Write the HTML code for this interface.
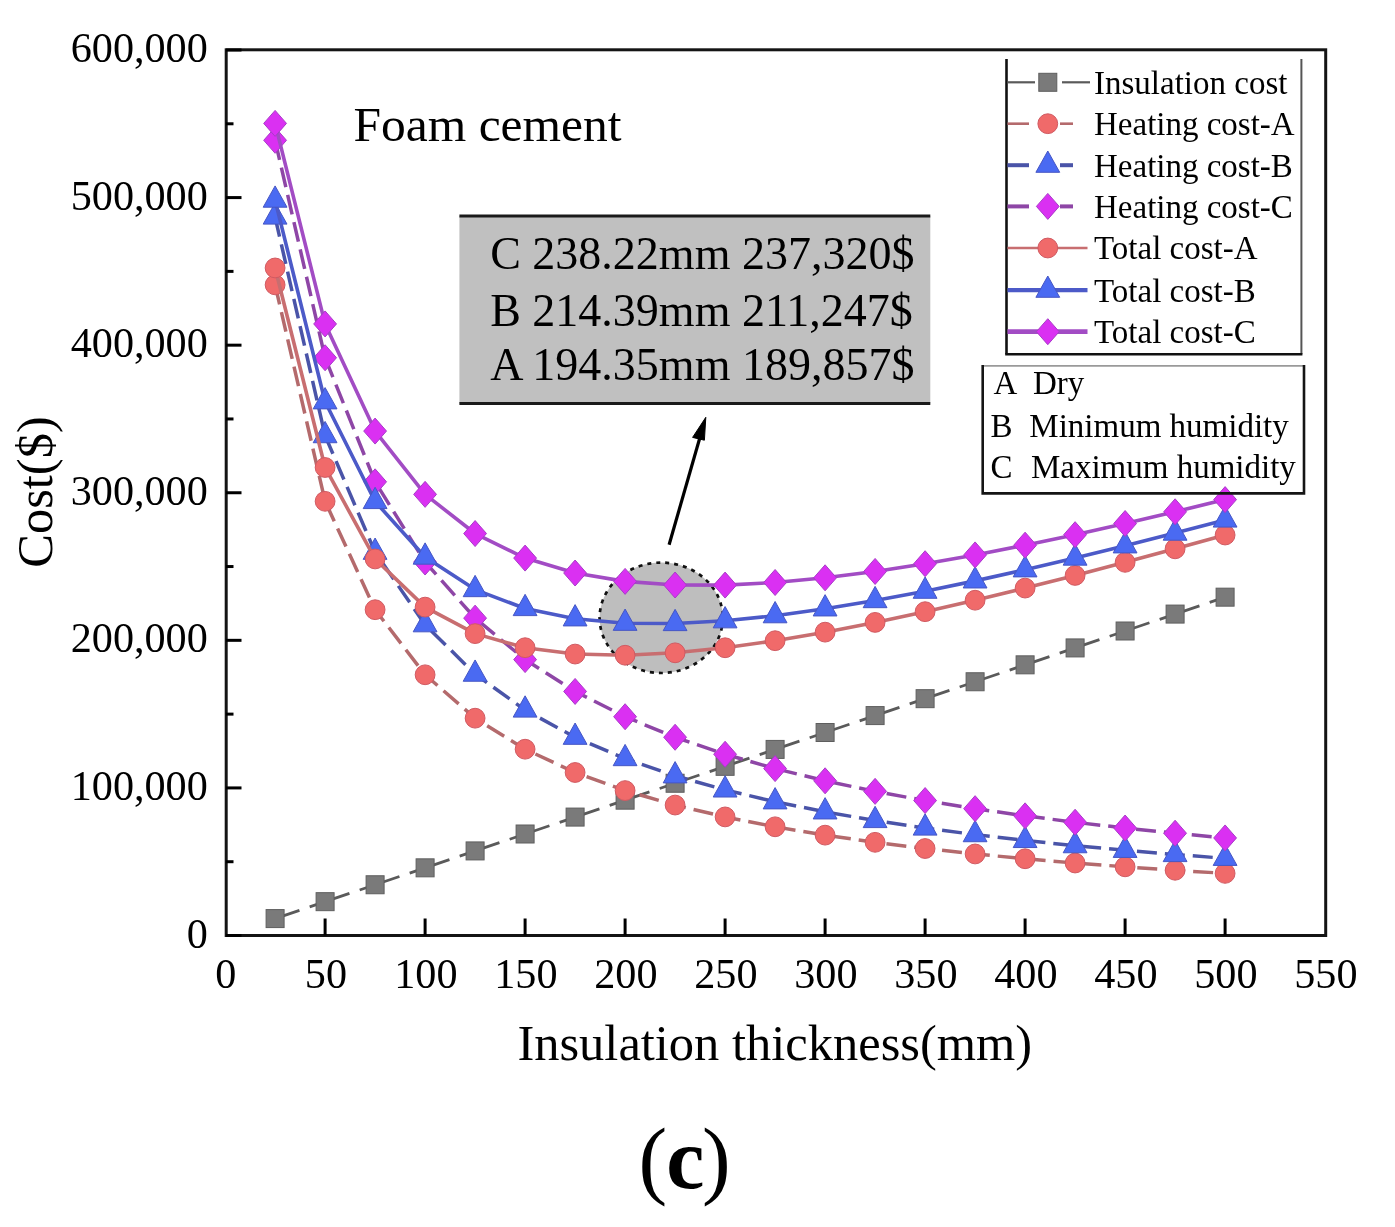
<!DOCTYPE html><html><head><meta charset="utf-8"><style>html,body{margin:0;padding:0;background:#fff;}svg{display:block;filter:blur(0.55px);}</style></head><body>
<svg width="1395" height="1227" viewBox="0 0 1395 1227">
<rect width="1395" height="1227" fill="#ffffff"/>
<ellipse cx="661.2" cy="617.8" rx="61.6" ry="55.2" fill="#bebebe" stroke="#111" stroke-width="2.7" stroke-dasharray="4 5"/>
<line x1="275.10" y1="918.58" x2="325.10" y2="901.67" stroke="#5a5a5a" stroke-width="2.8" stroke-dasharray="25.7 10.8 40"/>
<line x1="325.10" y1="901.67" x2="375.10" y2="884.75" stroke="#5a5a5a" stroke-width="2.8" stroke-dasharray="25.7 10.8 40"/>
<line x1="375.10" y1="884.75" x2="425.10" y2="867.83" stroke="#5a5a5a" stroke-width="2.8" stroke-dasharray="25.7 10.8 40"/>
<line x1="425.10" y1="867.83" x2="475.10" y2="850.92" stroke="#5a5a5a" stroke-width="2.8" stroke-dasharray="25.7 10.8 40"/>
<line x1="475.10" y1="850.92" x2="525.10" y2="834.00" stroke="#5a5a5a" stroke-width="2.8" stroke-dasharray="25.7 10.8 40"/>
<line x1="525.10" y1="834.00" x2="575.10" y2="817.08" stroke="#5a5a5a" stroke-width="2.8" stroke-dasharray="25.7 10.8 40"/>
<line x1="575.10" y1="817.08" x2="625.10" y2="800.17" stroke="#5a5a5a" stroke-width="2.8" stroke-dasharray="25.7 10.8 40"/>
<line x1="625.10" y1="800.17" x2="675.10" y2="783.25" stroke="#5a5a5a" stroke-width="2.8" stroke-dasharray="25.7 10.8 40"/>
<line x1="675.10" y1="783.25" x2="725.10" y2="766.33" stroke="#5a5a5a" stroke-width="2.8" stroke-dasharray="25.7 10.8 40"/>
<line x1="725.10" y1="766.33" x2="775.10" y2="749.42" stroke="#5a5a5a" stroke-width="2.8" stroke-dasharray="25.7 10.8 40"/>
<line x1="775.10" y1="749.42" x2="825.10" y2="732.50" stroke="#5a5a5a" stroke-width="2.8" stroke-dasharray="25.7 10.8 40"/>
<line x1="825.10" y1="732.50" x2="875.10" y2="715.58" stroke="#5a5a5a" stroke-width="2.8" stroke-dasharray="25.7 10.8 40"/>
<line x1="875.10" y1="715.58" x2="925.10" y2="698.67" stroke="#5a5a5a" stroke-width="2.8" stroke-dasharray="25.7 10.8 40"/>
<line x1="925.10" y1="698.67" x2="975.10" y2="681.75" stroke="#5a5a5a" stroke-width="2.8" stroke-dasharray="25.7 10.8 40"/>
<line x1="975.10" y1="681.75" x2="1025.10" y2="664.83" stroke="#5a5a5a" stroke-width="2.8" stroke-dasharray="25.7 10.8 40"/>
<line x1="1025.10" y1="664.83" x2="1075.10" y2="647.92" stroke="#5a5a5a" stroke-width="2.8" stroke-dasharray="25.7 10.8 40"/>
<line x1="1075.10" y1="647.92" x2="1125.10" y2="631.00" stroke="#5a5a5a" stroke-width="2.8" stroke-dasharray="25.7 10.8 40"/>
<line x1="1125.10" y1="631.00" x2="1175.10" y2="614.08" stroke="#5a5a5a" stroke-width="2.8" stroke-dasharray="25.7 10.8 40"/>
<line x1="1175.10" y1="614.08" x2="1225.10" y2="597.17" stroke="#5a5a5a" stroke-width="2.8" stroke-dasharray="25.7 10.8 40"/>
<rect x="266.10" y="909.58" width="18.00" height="18.00" fill="#7a7a7a" stroke="#5e5e5e" stroke-width="1"/>
<rect x="316.10" y="892.67" width="18.00" height="18.00" fill="#7a7a7a" stroke="#5e5e5e" stroke-width="1"/>
<rect x="366.10" y="875.75" width="18.00" height="18.00" fill="#7a7a7a" stroke="#5e5e5e" stroke-width="1"/>
<rect x="416.10" y="858.83" width="18.00" height="18.00" fill="#7a7a7a" stroke="#5e5e5e" stroke-width="1"/>
<rect x="466.10" y="841.92" width="18.00" height="18.00" fill="#7a7a7a" stroke="#5e5e5e" stroke-width="1"/>
<rect x="516.10" y="825.00" width="18.00" height="18.00" fill="#7a7a7a" stroke="#5e5e5e" stroke-width="1"/>
<rect x="566.10" y="808.08" width="18.00" height="18.00" fill="#7a7a7a" stroke="#5e5e5e" stroke-width="1"/>
<rect x="616.10" y="791.17" width="18.00" height="18.00" fill="#7a7a7a" stroke="#5e5e5e" stroke-width="1"/>
<rect x="666.10" y="774.25" width="18.00" height="18.00" fill="#7a7a7a" stroke="#5e5e5e" stroke-width="1"/>
<rect x="716.10" y="757.33" width="18.00" height="18.00" fill="#7a7a7a" stroke="#5e5e5e" stroke-width="1"/>
<rect x="766.10" y="740.42" width="18.00" height="18.00" fill="#7a7a7a" stroke="#5e5e5e" stroke-width="1"/>
<rect x="816.10" y="723.50" width="18.00" height="18.00" fill="#7a7a7a" stroke="#5e5e5e" stroke-width="1"/>
<rect x="866.10" y="706.58" width="18.00" height="18.00" fill="#7a7a7a" stroke="#5e5e5e" stroke-width="1"/>
<rect x="916.10" y="689.67" width="18.00" height="18.00" fill="#7a7a7a" stroke="#5e5e5e" stroke-width="1"/>
<rect x="966.10" y="672.75" width="18.00" height="18.00" fill="#7a7a7a" stroke="#5e5e5e" stroke-width="1"/>
<rect x="1016.10" y="655.83" width="18.00" height="18.00" fill="#7a7a7a" stroke="#5e5e5e" stroke-width="1"/>
<rect x="1066.10" y="638.92" width="18.00" height="18.00" fill="#7a7a7a" stroke="#5e5e5e" stroke-width="1"/>
<rect x="1116.10" y="622.00" width="18.00" height="18.00" fill="#7a7a7a" stroke="#5e5e5e" stroke-width="1"/>
<rect x="1166.10" y="605.08" width="18.00" height="18.00" fill="#7a7a7a" stroke="#5e5e5e" stroke-width="1"/>
<rect x="1216.10" y="588.17" width="18.00" height="18.00" fill="#7a7a7a" stroke="#5e5e5e" stroke-width="1"/>
<polyline points="275.10,284.87 325.10,501.31 375.10,609.70 425.10,674.78 475.10,718.19 525.10,749.21 575.10,772.48 625.10,790.58 675.10,805.06 725.10,816.91 775.10,826.79 825.10,835.15 875.10,842.31 925.10,848.52 975.10,853.96 1025.10,858.75 1075.10,863.01 1125.10,866.83 1175.10,870.26 1225.10,873.37" fill="none" stroke="#b46a6c" stroke-width="3.5" stroke-dasharray="20 8" stroke-linejoin="round"/>
<circle cx="275.10" cy="284.87" r="9.90" fill="#f06a6a" stroke="#d05a62" stroke-width="1"/>
<circle cx="325.10" cy="501.31" r="9.90" fill="#f06a6a" stroke="#d05a62" stroke-width="1"/>
<circle cx="375.10" cy="609.70" r="9.90" fill="#f06a6a" stroke="#d05a62" stroke-width="1"/>
<circle cx="425.10" cy="674.78" r="9.90" fill="#f06a6a" stroke="#d05a62" stroke-width="1"/>
<circle cx="475.10" cy="718.19" r="9.90" fill="#f06a6a" stroke="#d05a62" stroke-width="1"/>
<circle cx="525.10" cy="749.21" r="9.90" fill="#f06a6a" stroke="#d05a62" stroke-width="1"/>
<circle cx="575.10" cy="772.48" r="9.90" fill="#f06a6a" stroke="#d05a62" stroke-width="1"/>
<circle cx="625.10" cy="790.58" r="9.90" fill="#f06a6a" stroke="#d05a62" stroke-width="1"/>
<circle cx="675.10" cy="805.06" r="9.90" fill="#f06a6a" stroke="#d05a62" stroke-width="1"/>
<circle cx="725.10" cy="816.91" r="9.90" fill="#f06a6a" stroke="#d05a62" stroke-width="1"/>
<circle cx="775.10" cy="826.79" r="9.90" fill="#f06a6a" stroke="#d05a62" stroke-width="1"/>
<circle cx="825.10" cy="835.15" r="9.90" fill="#f06a6a" stroke="#d05a62" stroke-width="1"/>
<circle cx="875.10" cy="842.31" r="9.90" fill="#f06a6a" stroke="#d05a62" stroke-width="1"/>
<circle cx="925.10" cy="848.52" r="9.90" fill="#f06a6a" stroke="#d05a62" stroke-width="1"/>
<circle cx="975.10" cy="853.96" r="9.90" fill="#f06a6a" stroke="#d05a62" stroke-width="1"/>
<circle cx="1025.10" cy="858.75" r="9.90" fill="#f06a6a" stroke="#d05a62" stroke-width="1"/>
<circle cx="1075.10" cy="863.01" r="9.90" fill="#f06a6a" stroke="#d05a62" stroke-width="1"/>
<circle cx="1125.10" cy="866.83" r="9.90" fill="#f06a6a" stroke="#d05a62" stroke-width="1"/>
<circle cx="1175.10" cy="870.26" r="9.90" fill="#f06a6a" stroke="#d05a62" stroke-width="1"/>
<circle cx="1225.10" cy="873.37" r="9.90" fill="#f06a6a" stroke="#d05a62" stroke-width="1"/>
<polyline points="275.10,217.02 325.10,435.62 375.10,552.23 425.10,624.72 475.10,674.16 525.10,710.02 575.10,737.23 625.10,758.58 675.10,775.78 725.10,789.93 775.10,801.78 825.10,811.84 875.10,820.50 925.10,828.02 975.10,834.62 1025.10,840.46 1075.10,845.65 1125.10,850.31 1175.10,854.51 1225.10,858.32" fill="none" stroke="#4a54a8" stroke-width="3.5" stroke-dasharray="20 8" stroke-linejoin="round"/>
<polygon points="275.10,202.82 287.00,224.12 263.20,224.12" fill="#4a6af2" stroke="#4656c4" stroke-width="1"/>
<polygon points="325.10,421.42 337.00,442.72 313.20,442.72" fill="#4a6af2" stroke="#4656c4" stroke-width="1"/>
<polygon points="375.10,538.03 387.00,559.33 363.20,559.33" fill="#4a6af2" stroke="#4656c4" stroke-width="1"/>
<polygon points="425.10,610.52 437.00,631.82 413.20,631.82" fill="#4a6af2" stroke="#4656c4" stroke-width="1"/>
<polygon points="475.10,659.96 487.00,681.26 463.20,681.26" fill="#4a6af2" stroke="#4656c4" stroke-width="1"/>
<polygon points="525.10,695.82 537.00,717.12 513.20,717.12" fill="#4a6af2" stroke="#4656c4" stroke-width="1"/>
<polygon points="575.10,723.03 587.00,744.33 563.20,744.33" fill="#4a6af2" stroke="#4656c4" stroke-width="1"/>
<polygon points="625.10,744.38 637.00,765.68 613.20,765.68" fill="#4a6af2" stroke="#4656c4" stroke-width="1"/>
<polygon points="675.10,761.58 687.00,782.88 663.20,782.88" fill="#4a6af2" stroke="#4656c4" stroke-width="1"/>
<polygon points="725.10,775.73 737.00,797.03 713.20,797.03" fill="#4a6af2" stroke="#4656c4" stroke-width="1"/>
<polygon points="775.10,787.58 787.00,808.88 763.20,808.88" fill="#4a6af2" stroke="#4656c4" stroke-width="1"/>
<polygon points="825.10,797.64 837.00,818.94 813.20,818.94" fill="#4a6af2" stroke="#4656c4" stroke-width="1"/>
<polygon points="875.10,806.30 887.00,827.60 863.20,827.60" fill="#4a6af2" stroke="#4656c4" stroke-width="1"/>
<polygon points="925.10,813.82 937.00,835.12 913.20,835.12" fill="#4a6af2" stroke="#4656c4" stroke-width="1"/>
<polygon points="975.10,820.42 987.00,841.72 963.20,841.72" fill="#4a6af2" stroke="#4656c4" stroke-width="1"/>
<polygon points="1025.10,826.26 1037.00,847.56 1013.20,847.56" fill="#4a6af2" stroke="#4656c4" stroke-width="1"/>
<polygon points="1075.10,831.45 1087.00,852.75 1063.20,852.75" fill="#4a6af2" stroke="#4656c4" stroke-width="1"/>
<polygon points="1125.10,836.11 1137.00,857.41 1113.20,857.41" fill="#4a6af2" stroke="#4656c4" stroke-width="1"/>
<polygon points="1175.10,840.31 1187.00,861.61 1163.20,861.61" fill="#4a6af2" stroke="#4656c4" stroke-width="1"/>
<polygon points="1225.10,844.12 1237.00,865.42 1213.20,865.42" fill="#4a6af2" stroke="#4656c4" stroke-width="1"/>
<polyline points="275.10,140.30 325.10,357.76 375.10,481.82 425.10,562.02 475.10,618.13 525.10,659.58 575.10,691.45 625.10,716.72 675.10,737.25 725.10,754.26 775.10,768.58 825.10,780.80 875.10,791.36 925.10,800.56 975.10,808.66 1025.10,815.85 1075.10,822.26 1125.10,828.02 1175.10,833.22 1225.10,837.95" fill="none" stroke="#8e46a6" stroke-width="3.5" stroke-dasharray="20 8" stroke-linejoin="round"/>
<polygon points="275.10,127.30 286.50,140.30 275.10,153.30 263.70,140.30" fill="#da30f2" stroke="#a83cc8" stroke-width="1"/>
<polygon points="325.10,344.76 336.50,357.76 325.10,370.76 313.70,357.76" fill="#da30f2" stroke="#a83cc8" stroke-width="1"/>
<polygon points="375.10,468.82 386.50,481.82 375.10,494.82 363.70,481.82" fill="#da30f2" stroke="#a83cc8" stroke-width="1"/>
<polygon points="425.10,549.02 436.50,562.02 425.10,575.02 413.70,562.02" fill="#da30f2" stroke="#a83cc8" stroke-width="1"/>
<polygon points="475.10,605.13 486.50,618.13 475.10,631.13 463.70,618.13" fill="#da30f2" stroke="#a83cc8" stroke-width="1"/>
<polygon points="525.10,646.58 536.50,659.58 525.10,672.58 513.70,659.58" fill="#da30f2" stroke="#a83cc8" stroke-width="1"/>
<polygon points="575.10,678.45 586.50,691.45 575.10,704.45 563.70,691.45" fill="#da30f2" stroke="#a83cc8" stroke-width="1"/>
<polygon points="625.10,703.72 636.50,716.72 625.10,729.72 613.70,716.72" fill="#da30f2" stroke="#a83cc8" stroke-width="1"/>
<polygon points="675.10,724.25 686.50,737.25 675.10,750.25 663.70,737.25" fill="#da30f2" stroke="#a83cc8" stroke-width="1"/>
<polygon points="725.10,741.26 736.50,754.26 725.10,767.26 713.70,754.26" fill="#da30f2" stroke="#a83cc8" stroke-width="1"/>
<polygon points="775.10,755.58 786.50,768.58 775.10,781.58 763.70,768.58" fill="#da30f2" stroke="#a83cc8" stroke-width="1"/>
<polygon points="825.10,767.80 836.50,780.80 825.10,793.80 813.70,780.80" fill="#da30f2" stroke="#a83cc8" stroke-width="1"/>
<polygon points="875.10,778.36 886.50,791.36 875.10,804.36 863.70,791.36" fill="#da30f2" stroke="#a83cc8" stroke-width="1"/>
<polygon points="925.10,787.56 936.50,800.56 925.10,813.56 913.70,800.56" fill="#da30f2" stroke="#a83cc8" stroke-width="1"/>
<polygon points="975.10,795.66 986.50,808.66 975.10,821.66 963.70,808.66" fill="#da30f2" stroke="#a83cc8" stroke-width="1"/>
<polygon points="1025.10,802.85 1036.50,815.85 1025.10,828.85 1013.70,815.85" fill="#da30f2" stroke="#a83cc8" stroke-width="1"/>
<polygon points="1075.10,809.26 1086.50,822.26 1075.10,835.26 1063.70,822.26" fill="#da30f2" stroke="#a83cc8" stroke-width="1"/>
<polygon points="1125.10,815.02 1136.50,828.02 1125.10,841.02 1113.70,828.02" fill="#da30f2" stroke="#a83cc8" stroke-width="1"/>
<polygon points="1175.10,820.22 1186.50,833.22 1175.10,846.22 1163.70,833.22" fill="#da30f2" stroke="#a83cc8" stroke-width="1"/>
<polygon points="1225.10,824.95 1236.50,837.95 1225.10,850.95 1213.70,837.95" fill="#da30f2" stroke="#a83cc8" stroke-width="1"/>
<polyline points="275.10,267.95 325.10,467.48 375.10,558.95 425.10,607.11 475.10,633.61 525.10,647.71 575.10,654.06 625.10,655.24 675.10,652.81 725.10,647.75 775.10,640.71 825.10,632.15 875.10,622.40 925.10,611.69 975.10,600.21 1025.10,588.08 1075.10,575.43 1125.10,562.33 1175.10,548.84 1225.10,535.03" fill="none" stroke="#c86e70" stroke-width="3.6" stroke-linejoin="round"/>
<circle cx="275.10" cy="267.95" r="9.90" fill="#f06a6a" stroke="#d05a62" stroke-width="1"/>
<circle cx="325.10" cy="467.48" r="9.90" fill="#f06a6a" stroke="#d05a62" stroke-width="1"/>
<circle cx="375.10" cy="558.95" r="9.90" fill="#f06a6a" stroke="#d05a62" stroke-width="1"/>
<circle cx="425.10" cy="607.11" r="9.90" fill="#f06a6a" stroke="#d05a62" stroke-width="1"/>
<circle cx="475.10" cy="633.61" r="9.90" fill="#f06a6a" stroke="#d05a62" stroke-width="1"/>
<circle cx="525.10" cy="647.71" r="9.90" fill="#f06a6a" stroke="#d05a62" stroke-width="1"/>
<circle cx="575.10" cy="654.06" r="9.90" fill="#f06a6a" stroke="#d05a62" stroke-width="1"/>
<circle cx="625.10" cy="655.24" r="9.90" fill="#f06a6a" stroke="#d05a62" stroke-width="1"/>
<circle cx="675.10" cy="652.81" r="9.90" fill="#f06a6a" stroke="#d05a62" stroke-width="1"/>
<circle cx="725.10" cy="647.75" r="9.90" fill="#f06a6a" stroke="#d05a62" stroke-width="1"/>
<circle cx="775.10" cy="640.71" r="9.90" fill="#f06a6a" stroke="#d05a62" stroke-width="1"/>
<circle cx="825.10" cy="632.15" r="9.90" fill="#f06a6a" stroke="#d05a62" stroke-width="1"/>
<circle cx="875.10" cy="622.40" r="9.90" fill="#f06a6a" stroke="#d05a62" stroke-width="1"/>
<circle cx="925.10" cy="611.69" r="9.90" fill="#f06a6a" stroke="#d05a62" stroke-width="1"/>
<circle cx="975.10" cy="600.21" r="9.90" fill="#f06a6a" stroke="#d05a62" stroke-width="1"/>
<circle cx="1025.10" cy="588.08" r="9.90" fill="#f06a6a" stroke="#d05a62" stroke-width="1"/>
<circle cx="1075.10" cy="575.43" r="9.90" fill="#f06a6a" stroke="#d05a62" stroke-width="1"/>
<circle cx="1125.10" cy="562.33" r="9.90" fill="#f06a6a" stroke="#d05a62" stroke-width="1"/>
<circle cx="1175.10" cy="548.84" r="9.90" fill="#f06a6a" stroke="#d05a62" stroke-width="1"/>
<circle cx="1225.10" cy="535.03" r="9.90" fill="#f06a6a" stroke="#d05a62" stroke-width="1"/>
<polyline points="275.10,200.11 325.10,401.78 375.10,501.48 425.10,557.06 475.10,589.57 525.10,608.52 575.10,618.81 625.10,623.25 675.10,623.53 725.10,620.76 775.10,615.69 825.10,608.84 875.10,600.58 925.10,591.19 975.10,580.87 1025.10,569.79 1075.10,558.07 1125.10,545.81 1175.10,533.09 1225.10,519.98" fill="none" stroke="#4c5ac8" stroke-width="3.6" stroke-linejoin="round"/>
<polygon points="275.10,185.91 287.00,207.21 263.20,207.21" fill="#4a6af2" stroke="#4656c4" stroke-width="1"/>
<polygon points="325.10,387.58 337.00,408.88 313.20,408.88" fill="#4a6af2" stroke="#4656c4" stroke-width="1"/>
<polygon points="375.10,487.28 387.00,508.58 363.20,508.58" fill="#4a6af2" stroke="#4656c4" stroke-width="1"/>
<polygon points="425.10,542.86 437.00,564.16 413.20,564.16" fill="#4a6af2" stroke="#4656c4" stroke-width="1"/>
<polygon points="475.10,575.37 487.00,596.67 463.20,596.67" fill="#4a6af2" stroke="#4656c4" stroke-width="1"/>
<polygon points="525.10,594.32 537.00,615.62 513.20,615.62" fill="#4a6af2" stroke="#4656c4" stroke-width="1"/>
<polygon points="575.10,604.61 587.00,625.91 563.20,625.91" fill="#4a6af2" stroke="#4656c4" stroke-width="1"/>
<polygon points="625.10,609.05 637.00,630.35 613.20,630.35" fill="#4a6af2" stroke="#4656c4" stroke-width="1"/>
<polygon points="675.10,609.33 687.00,630.63 663.20,630.63" fill="#4a6af2" stroke="#4656c4" stroke-width="1"/>
<polygon points="725.10,606.56 737.00,627.86 713.20,627.86" fill="#4a6af2" stroke="#4656c4" stroke-width="1"/>
<polygon points="775.10,601.49 787.00,622.79 763.20,622.79" fill="#4a6af2" stroke="#4656c4" stroke-width="1"/>
<polygon points="825.10,594.64 837.00,615.94 813.20,615.94" fill="#4a6af2" stroke="#4656c4" stroke-width="1"/>
<polygon points="875.10,586.38 887.00,607.68 863.20,607.68" fill="#4a6af2" stroke="#4656c4" stroke-width="1"/>
<polygon points="925.10,576.99 937.00,598.29 913.20,598.29" fill="#4a6af2" stroke="#4656c4" stroke-width="1"/>
<polygon points="975.10,566.67 987.00,587.97 963.20,587.97" fill="#4a6af2" stroke="#4656c4" stroke-width="1"/>
<polygon points="1025.10,555.59 1037.00,576.89 1013.20,576.89" fill="#4a6af2" stroke="#4656c4" stroke-width="1"/>
<polygon points="1075.10,543.87 1087.00,565.17 1063.20,565.17" fill="#4a6af2" stroke="#4656c4" stroke-width="1"/>
<polygon points="1125.10,531.61 1137.00,552.91 1113.20,552.91" fill="#4a6af2" stroke="#4656c4" stroke-width="1"/>
<polygon points="1175.10,518.89 1187.00,540.19 1163.20,540.19" fill="#4a6af2" stroke="#4656c4" stroke-width="1"/>
<polygon points="1225.10,505.78 1237.00,527.08 1213.20,527.08" fill="#4a6af2" stroke="#4656c4" stroke-width="1"/>
<polyline points="275.10,123.38 325.10,323.93 375.10,431.07 425.10,494.36 475.10,533.54 525.10,558.08 575.10,573.03 625.10,581.39 675.10,585.00 725.10,585.09 775.10,582.49 825.10,577.80 875.10,571.44 925.10,563.73 975.10,554.91 1025.10,545.18 1075.10,534.68 1125.10,523.52 1175.10,511.81 1225.10,499.61" fill="none" stroke="#a24cc4" stroke-width="3.6" stroke-linejoin="round"/>
<polygon points="275.10,110.38 286.50,123.38 275.10,136.38 263.70,123.38" fill="#da30f2" stroke="#a83cc8" stroke-width="1"/>
<polygon points="325.10,310.93 336.50,323.93 325.10,336.93 313.70,323.93" fill="#da30f2" stroke="#a83cc8" stroke-width="1"/>
<polygon points="375.10,418.07 386.50,431.07 375.10,444.07 363.70,431.07" fill="#da30f2" stroke="#a83cc8" stroke-width="1"/>
<polygon points="425.10,481.36 436.50,494.36 425.10,507.36 413.70,494.36" fill="#da30f2" stroke="#a83cc8" stroke-width="1"/>
<polygon points="475.10,520.54 486.50,533.54 475.10,546.54 463.70,533.54" fill="#da30f2" stroke="#a83cc8" stroke-width="1"/>
<polygon points="525.10,545.08 536.50,558.08 525.10,571.08 513.70,558.08" fill="#da30f2" stroke="#a83cc8" stroke-width="1"/>
<polygon points="575.10,560.03 586.50,573.03 575.10,586.03 563.70,573.03" fill="#da30f2" stroke="#a83cc8" stroke-width="1"/>
<polygon points="625.10,568.39 636.50,581.39 625.10,594.39 613.70,581.39" fill="#da30f2" stroke="#a83cc8" stroke-width="1"/>
<polygon points="675.10,572.00 686.50,585.00 675.10,598.00 663.70,585.00" fill="#da30f2" stroke="#a83cc8" stroke-width="1"/>
<polygon points="725.10,572.09 736.50,585.09 725.10,598.09 713.70,585.09" fill="#da30f2" stroke="#a83cc8" stroke-width="1"/>
<polygon points="775.10,569.49 786.50,582.49 775.10,595.49 763.70,582.49" fill="#da30f2" stroke="#a83cc8" stroke-width="1"/>
<polygon points="825.10,564.80 836.50,577.80 825.10,590.80 813.70,577.80" fill="#da30f2" stroke="#a83cc8" stroke-width="1"/>
<polygon points="875.10,558.44 886.50,571.44 875.10,584.44 863.70,571.44" fill="#da30f2" stroke="#a83cc8" stroke-width="1"/>
<polygon points="925.10,550.73 936.50,563.73 925.10,576.73 913.70,563.73" fill="#da30f2" stroke="#a83cc8" stroke-width="1"/>
<polygon points="975.10,541.91 986.50,554.91 975.10,567.91 963.70,554.91" fill="#da30f2" stroke="#a83cc8" stroke-width="1"/>
<polygon points="1025.10,532.18 1036.50,545.18 1025.10,558.18 1013.70,545.18" fill="#da30f2" stroke="#a83cc8" stroke-width="1"/>
<polygon points="1075.10,521.68 1086.50,534.68 1075.10,547.68 1063.70,534.68" fill="#da30f2" stroke="#a83cc8" stroke-width="1"/>
<polygon points="1125.10,510.52 1136.50,523.52 1125.10,536.52 1113.70,523.52" fill="#da30f2" stroke="#a83cc8" stroke-width="1"/>
<polygon points="1175.10,498.81 1186.50,511.81 1175.10,524.81 1163.70,511.81" fill="#da30f2" stroke="#a83cc8" stroke-width="1"/>
<polygon points="1225.10,486.61 1236.50,499.61 1225.10,512.61 1213.70,499.61" fill="#da30f2" stroke="#a83cc8" stroke-width="1"/>
<rect x="226.2" y="49.8" width="1099.5" height="885.7" fill="none" stroke="#141414" stroke-width="3"/>
<line x1="226" y1="935.50" x2="241.5" y2="935.50" stroke="#000" stroke-width="3"/>
<line x1="226" y1="861.71" x2="233.5" y2="861.71" stroke="#000" stroke-width="3"/>
<line x1="226" y1="787.92" x2="241.5" y2="787.92" stroke="#000" stroke-width="3"/>
<line x1="226" y1="714.12" x2="233.5" y2="714.12" stroke="#000" stroke-width="3"/>
<line x1="226" y1="640.33" x2="241.5" y2="640.33" stroke="#000" stroke-width="3"/>
<line x1="226" y1="566.54" x2="233.5" y2="566.54" stroke="#000" stroke-width="3"/>
<line x1="226" y1="492.75" x2="241.5" y2="492.75" stroke="#000" stroke-width="3"/>
<line x1="226" y1="418.96" x2="233.5" y2="418.96" stroke="#000" stroke-width="3"/>
<line x1="226" y1="345.17" x2="241.5" y2="345.17" stroke="#000" stroke-width="3"/>
<line x1="226" y1="271.38" x2="233.5" y2="271.38" stroke="#000" stroke-width="3"/>
<line x1="226" y1="197.58" x2="241.5" y2="197.58" stroke="#000" stroke-width="3"/>
<line x1="226" y1="123.79" x2="233.5" y2="123.79" stroke="#000" stroke-width="3"/>
<line x1="226" y1="50.00" x2="241.5" y2="50.00" stroke="#000" stroke-width="3"/>
<line x1="325.10" y1="935.5" x2="325.10" y2="918.5" stroke="#000" stroke-width="3"/>
<line x1="425.10" y1="935.5" x2="425.10" y2="918.5" stroke="#000" stroke-width="3"/>
<line x1="525.10" y1="935.5" x2="525.10" y2="918.5" stroke="#000" stroke-width="3"/>
<line x1="625.10" y1="935.5" x2="625.10" y2="918.5" stroke="#000" stroke-width="3"/>
<line x1="725.10" y1="935.5" x2="725.10" y2="918.5" stroke="#000" stroke-width="3"/>
<line x1="825.10" y1="935.5" x2="825.10" y2="918.5" stroke="#000" stroke-width="3"/>
<line x1="925.10" y1="935.5" x2="925.10" y2="918.5" stroke="#000" stroke-width="3"/>
<line x1="1025.10" y1="935.5" x2="1025.10" y2="918.5" stroke="#000" stroke-width="3"/>
<line x1="1125.10" y1="935.5" x2="1125.10" y2="918.5" stroke="#000" stroke-width="3"/>
<line x1="1225.10" y1="935.5" x2="1225.10" y2="918.5" stroke="#000" stroke-width="3"/>
<text x="207.8" y="947.50" font-family='"Liberation Serif", serif' font-size="42.2" text-anchor="end" fill="#000">0</text>
<text x="207.8" y="799.92" font-family='"Liberation Serif", serif' font-size="42.2" text-anchor="end" fill="#000">100,000</text>
<text x="207.8" y="652.33" font-family='"Liberation Serif", serif' font-size="42.2" text-anchor="end" fill="#000">200,000</text>
<text x="207.8" y="504.75" font-family='"Liberation Serif", serif' font-size="42.2" text-anchor="end" fill="#000">300,000</text>
<text x="207.8" y="357.17" font-family='"Liberation Serif", serif' font-size="42.2" text-anchor="end" fill="#000">400,000</text>
<text x="207.8" y="209.58" font-family='"Liberation Serif", serif' font-size="42.2" text-anchor="end" fill="#000">500,000</text>
<text x="207.8" y="62.00" font-family='"Liberation Serif", serif' font-size="42.2" text-anchor="end" fill="#000">600,000</text>
<text x="225.90" y="987.5" font-family='"Liberation Serif", serif' font-size="42.2" text-anchor="middle" fill="#000">0</text>
<text x="325.90" y="987.5" font-family='"Liberation Serif", serif' font-size="42.2" text-anchor="middle" fill="#000">50</text>
<text x="425.90" y="987.5" font-family='"Liberation Serif", serif' font-size="42.2" text-anchor="middle" fill="#000">100</text>
<text x="525.90" y="987.5" font-family='"Liberation Serif", serif' font-size="42.2" text-anchor="middle" fill="#000">150</text>
<text x="625.90" y="987.5" font-family='"Liberation Serif", serif' font-size="42.2" text-anchor="middle" fill="#000">200</text>
<text x="725.90" y="987.5" font-family='"Liberation Serif", serif' font-size="42.2" text-anchor="middle" fill="#000">250</text>
<text x="825.90" y="987.5" font-family='"Liberation Serif", serif' font-size="42.2" text-anchor="middle" fill="#000">300</text>
<text x="925.90" y="987.5" font-family='"Liberation Serif", serif' font-size="42.2" text-anchor="middle" fill="#000">350</text>
<text x="1025.90" y="987.5" font-family='"Liberation Serif", serif' font-size="42.2" text-anchor="middle" fill="#000">400</text>
<text x="1125.90" y="987.5" font-family='"Liberation Serif", serif' font-size="42.2" text-anchor="middle" fill="#000">450</text>
<text x="1225.90" y="987.5" font-family='"Liberation Serif", serif' font-size="42.2" text-anchor="middle" fill="#000">500</text>
<text x="1325.90" y="987.5" font-family='"Liberation Serif", serif' font-size="42.2" text-anchor="middle" fill="#000">550</text>
<text x="517.4" y="1059.5" font-family='"Liberation Serif", serif' font-size="50.5" fill="#000">Insulation thickness(mm)</text>
<text transform="translate(51.8,492) rotate(-90)" font-family='"Liberation Serif", serif' font-size="50.5" text-anchor="middle" fill="#000">Cost($)</text>
<text x="353.5" y="140.5" font-family='"Liberation Serif", serif' font-size="49.5" fill="#000">Foam cement</text>
<rect x="459.4" y="216.1" width="470.9" height="187.5" fill="#c0c0c0"/>
<line x1="459.4" y1="216.1" x2="930.3" y2="216.1" stroke="#1a1a1a" stroke-width="3"/>
<line x1="459.4" y1="403.6" x2="930.3" y2="403.6" stroke="#1a1a1a" stroke-width="3"/>
<text x="490.2" y="268.7" font-family='"Liberation Serif", serif' font-size="46" fill="#000">C 238.22mm 237,320$</text>
<text x="490.2" y="325.5" font-family='"Liberation Serif", serif' font-size="46" fill="#000">B 214.39mm 211,247$</text>
<text x="490.2" y="379.6" font-family='"Liberation Serif", serif' font-size="46" fill="#000">A 194.35mm 189,857$</text>
<line x1="669.1" y1="544.7" x2="700.5" y2="435.5" stroke="#000" stroke-width="3.2"/>
<polygon points="705.8,417.3 692.6,437.4 704.4,440.2" fill="#000" stroke="#000" stroke-width="1"/>
<line x1="1006.5" y1="59" x2="1006.5" y2="354.2" stroke="#111" stroke-width="2.6"/>
<line x1="1301.4" y1="59" x2="1301.4" y2="354.2" stroke="#555" stroke-width="2"/>
<line x1="1005.2" y1="354.2" x2="1302.4" y2="354.2" stroke="#111" stroke-width="2.6"/>
<line x1="1007.5" y1="82.3" x2="1035" y2="82.3" stroke="#5a5a5a" stroke-width="2.2"/>
<line x1="1062" y1="82.3" x2="1090" y2="82.3" stroke="#5a5a5a" stroke-width="2.2"/>
<rect x="1038.80" y="73.30" width="18.00" height="18.00" fill="#7a7a7a" stroke="#5e5e5e" stroke-width="1"/>
<text x="1094" y="93.7" font-family='"Liberation Serif", serif' font-size="33" fill="#000">Insulation cost</text>
<line x1="1007.5" y1="123.7" x2="1029" y2="123.7" stroke="#b46a6c" stroke-width="2.6"/>
<line x1="1060" y1="123.7" x2="1073" y2="123.7" stroke="#b46a6c" stroke-width="2.6"/>
<circle cx="1047.80" cy="123.70" r="9.90" fill="#f06a6a" stroke="#d05a62" stroke-width="1"/>
<text x="1094" y="135.1" font-family='"Liberation Serif", serif' font-size="33" fill="#000">Heating cost-A</text>
<line x1="1007.5" y1="165.2" x2="1029" y2="165.2" stroke="#4a54a8" stroke-width="4.0"/>
<line x1="1060" y1="165.2" x2="1073" y2="165.2" stroke="#4a54a8" stroke-width="4.0"/>
<polygon points="1047.80,151.00 1059.70,172.30 1035.90,172.30" fill="#4a6af2" stroke="#4656c4" stroke-width="1"/>
<text x="1094" y="176.6" font-family='"Liberation Serif", serif' font-size="33" fill="#000">Heating cost-B</text>
<line x1="1007.5" y1="206.4" x2="1029" y2="206.4" stroke="#8e46a6" stroke-width="4.0"/>
<line x1="1060" y1="206.4" x2="1073" y2="206.4" stroke="#8e46a6" stroke-width="4.0"/>
<polygon points="1047.80,193.40 1059.20,206.40 1047.80,219.40 1036.40,206.40" fill="#da30f2" stroke="#a83cc8" stroke-width="1"/>
<text x="1094" y="217.8" font-family='"Liberation Serif", serif' font-size="33" fill="#000">Heating cost-C</text>
<line x1="1007.5" y1="248.0" x2="1087.5" y2="248.0" stroke="#c86e70" stroke-width="2.4"/>
<circle cx="1047.80" cy="248.00" r="9.90" fill="#f06a6a" stroke="#d05a62" stroke-width="1"/>
<text x="1094" y="259.4" font-family='"Liberation Serif", serif' font-size="33" fill="#000">Total cost-A</text>
<line x1="1007.5" y1="290.2" x2="1087.5" y2="290.2" stroke="#4c5ac8" stroke-width="4.2"/>
<polygon points="1047.80,276.00 1059.70,297.30 1035.90,297.30" fill="#4a6af2" stroke="#4656c4" stroke-width="1"/>
<text x="1094" y="301.6" font-family='"Liberation Serif", serif' font-size="33" fill="#000">Total cost-B</text>
<line x1="1007.5" y1="331.7" x2="1087.5" y2="331.7" stroke="#a24cc4" stroke-width="4.8"/>
<polygon points="1047.80,318.70 1059.20,331.70 1047.80,344.70 1036.40,331.70" fill="#da30f2" stroke="#a83cc8" stroke-width="1"/>
<text x="1094" y="343.1" font-family='"Liberation Serif", serif' font-size="33" fill="#000">Total cost-C</text>
<line x1="982.7" y1="365.8" x2="1303.9" y2="365.8" stroke="#9a9a9a" stroke-width="1.8"/>
<polyline points="982.7,365 982.7,493.4 1304,493.4 1304,365" fill="none" stroke="#151515" stroke-width="2.6"/>
<text x="993.5" y="394.2" font-family='"Liberation Serif", serif' font-size="33" fill="#000">A</text>
<text x="1032.9" y="394.2" font-family='"Liberation Serif", serif' font-size="33" fill="#000">Dry</text>
<text x="990.6" y="436.6" font-family='"Liberation Serif", serif' font-size="33" fill="#000">B</text>
<text x="1029.3" y="436.6" font-family='"Liberation Serif", serif' font-size="33" fill="#000">Minimum humidity</text>
<text x="990.6" y="478.2" font-family='"Liberation Serif", serif' font-size="33" fill="#000">C</text>
<text x="1030.9" y="478.2" font-family='"Liberation Serif", serif' font-size="33" fill="#000">Maximum humidity</text>
<text x="638.5" y="1187.8" font-family='"Liberation Serif", serif' font-size="86" fill="#000">(</text>
<text x="666.2" y="1187.8" font-family='"Liberation Serif", serif' font-size="86" font-weight="bold" fill="#000">c</text>
<text x="701.9" y="1187.8" font-family='"Liberation Serif", serif' font-size="86" fill="#000">)</text>
</svg></body></html>
